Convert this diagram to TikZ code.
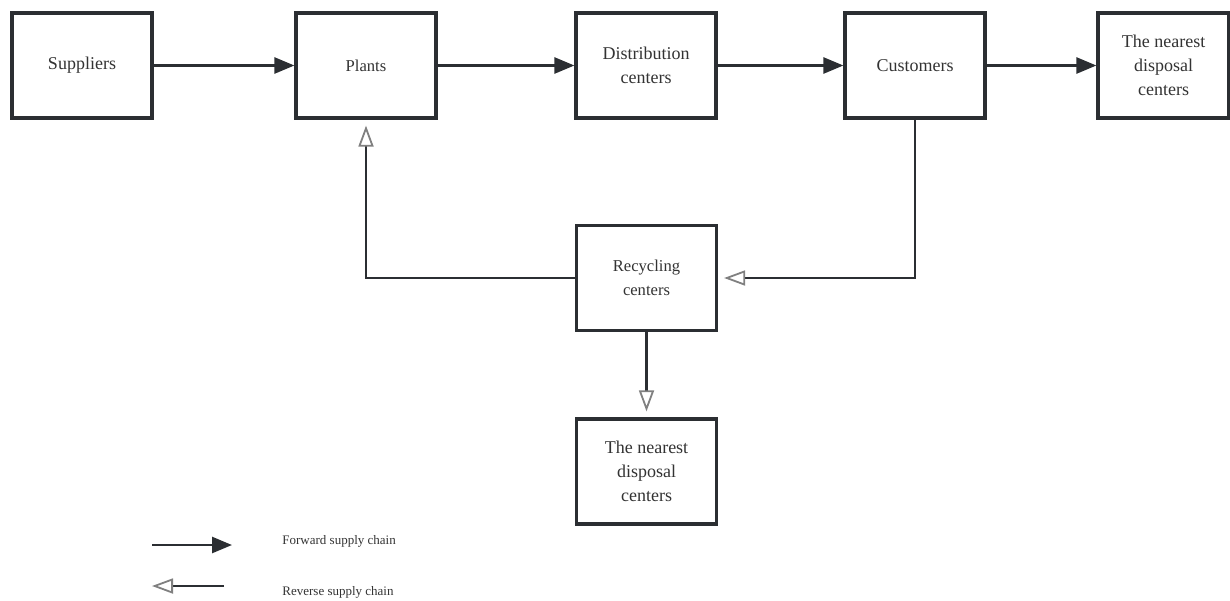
\documentclass[tikz,border=0pt]{standalone}
\usepackage{fontspec}
\setmainfont{Liberation Serif}
\usetikzlibrary{arrows.meta}

\definecolor{linegray}{HTML}{2B2E32}
\definecolor{tipgray}{HTML}{808080}
\definecolor{textgray}{HTML}{333333}

\begin{document}
\begin{tikzpicture}[x=0.5pt, y=-0.5pt,
    box/.style={draw=linegray, line width=1.6pt, fill=white,
      minimum width=70pt, minimum height=52.5pt, align=center,
      text=textgray, font=\fontsize{9}{12}\selectfont, inner sep=2pt},
    smallbox/.style={box, font=\fontsize{8.3}{12}\selectfont},
    fwd/.style={draw=linegray, line width=1.3pt,
      -{Triangle[length=10pt, width=8pt]}},
    rev/.style={draw=linegray, line width=1.3pt,
      -{Triangle[length=10.5pt, width=7.5pt, fill=white, color=tipgray, line width=0.9pt]},
      shorten >=3pt},
    legendtext/.style={anchor=west, text=textgray,
      font=\fontsize{6.5}{8}\selectfont, inner sep=0pt}]

    % Rahmen
    \useasboundingbox (0,0) rectangle (1230,600);

    % Vorwaertskette
    \node[box] (sup) at (82,65.5) {Suppliers};
    \node[smallbox] (pla) at (366,65.5) {Plants};
    \node[box] (dis) at (646,65.5) {Distribution\\centers};
    \node[box] (cus) at (915,65.5) {Customers};
    \node[box, minimum width=65.5pt] (dpr) at (1163.5,65.5) {The nearest\\disposal\\centers};

    % Rueckwaertskette
    \node[smallbox] (rec) at (646.5,278) {Recycling\\centers};
    \node[box] (dpb) at (646.5,471.5) {The nearest\\disposal\\centers};

    % Pfeile vorwaerts
    \draw[fwd] (sup) -- (pla);
    \draw[fwd] (pla) -- (dis);
    \draw[fwd] (dis) -- (cus);
    \draw[fwd] (cus) -- (dpr);

    % Pfeile rueckwaerts
    \draw[rev] (cus.south) |- (rec.east);
    \draw[rev] (rec.west) -| (pla.south);
    \draw[rev] (rec.south) -- (dpb.north);

    % Legende
    \coordinate (fa) at (152,545);
    \coordinate (fb) at (232,545);
    \coordinate (ra) at (224,586);
    \coordinate (rb) at (152,586);
    \draw[fwd] (fa) -- (fb);
    \draw[rev, shorten >=0pt] (ra) -- (rb);
    \node[legendtext] (fwdlabel) at (282,541) {Forward supply chain};
    \node[legendtext] (revlabel) at (282,592) {Reverse supply chain};

\end{tikzpicture}
\end{document}
